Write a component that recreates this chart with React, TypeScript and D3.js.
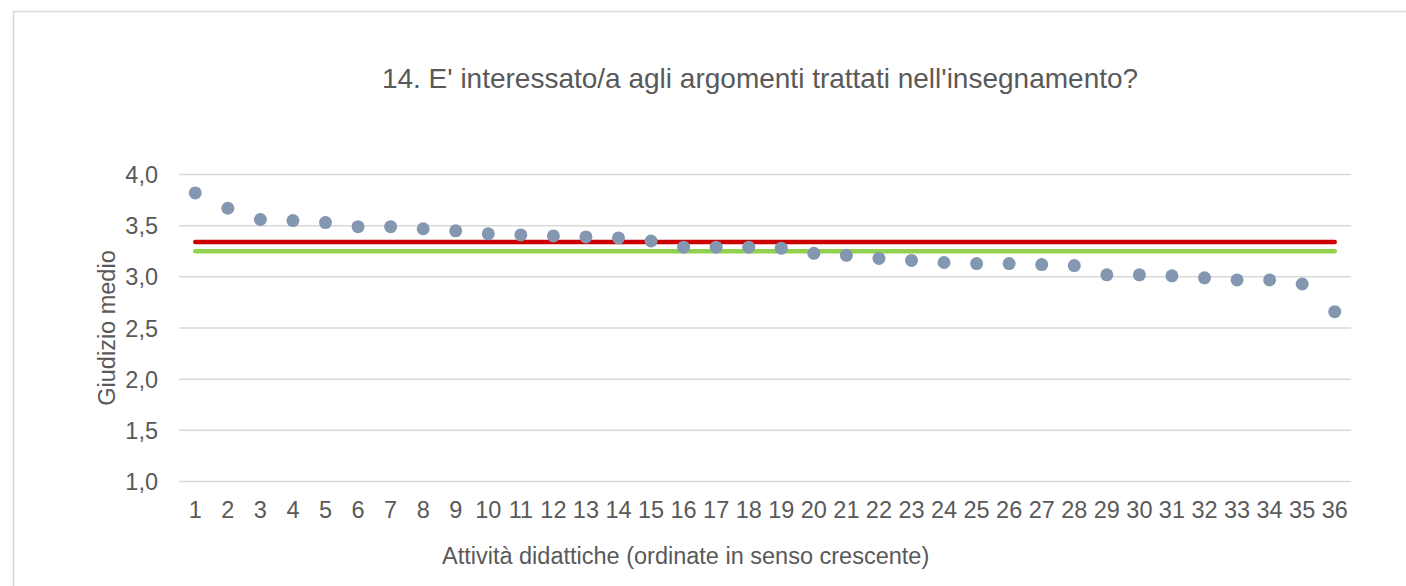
import React, { useRef, useEffect } from 'react';
import * as d3 from 'd3';

// Category labels (activities, sorted).
const categories: string[] = [
  '1', '2', '3', '4', '5', '6', '7', '8', '9', '10', '11', '12',
  '13', '14', '15', '16', '17', '18', '19', '20', '21', '22', '23', '24',
  '25', '26', '27', '28', '29', '30', '31', '32', '33', '34', '35', '36',
];

// Mean score per activity.
const giudizioMedio: number[] = [
  3.82, 3.67, 3.56, 3.55, 3.53, 3.49, 3.49, 3.47, 3.45, 3.42, 3.41, 3.40,
  3.39, 3.38, 3.35, 3.29, 3.29, 3.29, 3.28, 3.23, 3.21, 3.18, 3.16, 3.14,
  3.13, 3.13, 3.12, 3.11, 3.02, 3.02, 3.01, 2.99, 2.97, 2.97, 2.93, 2.66,
];

// Reference levels (horizontal lines).
const lineaRossa = 3.34;
const lineaVerde = 3.25;

const yTicks: number[] = [1.0, 1.5, 2.0, 2.5, 3.0, 3.5, 4.0];

const title = "14. E' interessato/a agli argomenti trattati nell'insegnamento?";
const xTitle = 'Attività didattiche (ordinate in senso crescente)';
const yTitle = 'Giudizio medio';

const App = () => {
  const ref = useRef<SVGSVGElement>(null);

  useEffect(() => {
    const svg = d3.select(ref.current);
    svg.selectAll('*').remove();

    const font = '"Liberation Sans", Arial, sans-serif';
    const textColor = '#595959';
    const gridColor = '#d9d9d9';

    // Plot area.
    const left = 179, right = 1351, top = 174.5, bottom = 481.5;

    const x = d3.scaleBand<string>()
      .domain(categories)
      .range([left, right])
      .padding(0);

    const y = d3.scaleLinear()
      .domain([1, 4])
      .range([bottom, top]);

    const fmt = (v: number) => d3.format('.1f')(v).replace('.', ',');

    // Outer chart border.
    svg.append('rect')
      .attr('x', 13.5)
      .attr('y', 11.5)
      .attr('width', 1500)
      .attr('height', 700)
      .attr('fill', '#fff')
      .attr('stroke', gridColor)
      .attr('stroke-width', 1.5);

    // Title.
    svg.append('text')
      .attr('x', 760)
      .attr('y', 87.5)
      .attr('text-anchor', 'middle')
      .style('font-family', font)
      .style('font-size', '28px')
      .attr('fill', textColor)
      .text(title);

    // Gridlines.
    svg.append('g')
      .selectAll('line')
      .data(yTicks)
      .join('line')
        .attr('x1', left)
        .attr('x2', right)
        .attr('y1', d => y(d))
        .attr('y2', d => y(d))
        .attr('stroke', gridColor)
        .attr('stroke-width', 1.5);

    // Y axis labels.
    svg.append('g')
      .selectAll('text')
      .data(yTicks)
      .join('text')
        .attr('x', 158)
        .attr('y', d => y(d) + 8.5)
        .attr('text-anchor', 'end')
        .style('font-family', font)
        .style('font-size', '23.5px')
        .attr('fill', textColor)
        .text(d => fmt(d));

    // X axis labels.
    svg.append('g')
      .selectAll('text')
      .data(categories)
      .join('text')
        .attr('x', d => (x(d) as number) + x.bandwidth() / 2)
        .attr('y', 518)
        .attr('text-anchor', 'middle')
        .style('font-family', font)
        .style('font-size', '23.5px')
        .attr('fill', textColor)
        .text(d => d);

    // Axis titles.
    svg.append('text')
      .attr('x', 442)
      .attr('y', 564)
      .style('font-family', font)
      .style('font-size', '23.5px')
      .attr('fill', textColor)
      .text(xTitle);

    svg.append('text')
      .attr('transform', 'translate(115, 328) rotate(-90)')
      .attr('text-anchor', 'middle')
      .style('font-family', font)
      .style('font-size', '23.5px')
      .attr('fill', textColor)
      .text(yTitle);

    // Reference lines from first to last category.
    const x0 = (x(categories[0]) as number) + x.bandwidth() / 2;
    const x1 = (x(categories[categories.length - 1]) as number) + x.bandwidth() / 2;

    svg.append('line')
      .attr('x1', x0).attr('x2', x1)
      .attr('y1', y(lineaRossa)).attr('y2', y(lineaRossa))
      .attr('stroke', '#cc0000')
      .attr('stroke-width', 4.5)
      .attr('stroke-linecap', 'round');

    svg.append('line')
      .attr('x1', x0).attr('x2', x1)
      .attr('y1', y(lineaVerde)).attr('y2', y(lineaVerde))
      .attr('stroke', '#92d050')
      .attr('stroke-width', 4.5)
      .attr('stroke-linecap', 'round');

    // Points.
    svg.append('g')
      .selectAll('circle')
      .data(giudizioMedio)
      .join('circle')
        .attr('cx', (d, i) => (x(categories[i]) as number) + x.bandwidth() / 2)
        .attr('cy', d => y(d))
        .attr('r', 6.5)
        .attr('fill', '#8497b0');
  }, []);

  return (
    <svg
      ref={ref}
      width={1406}
      height={586}
      style={{ position: 'absolute', left: 0, top: 0, background: '#fff' }}
    />
  );
};

export default App;
